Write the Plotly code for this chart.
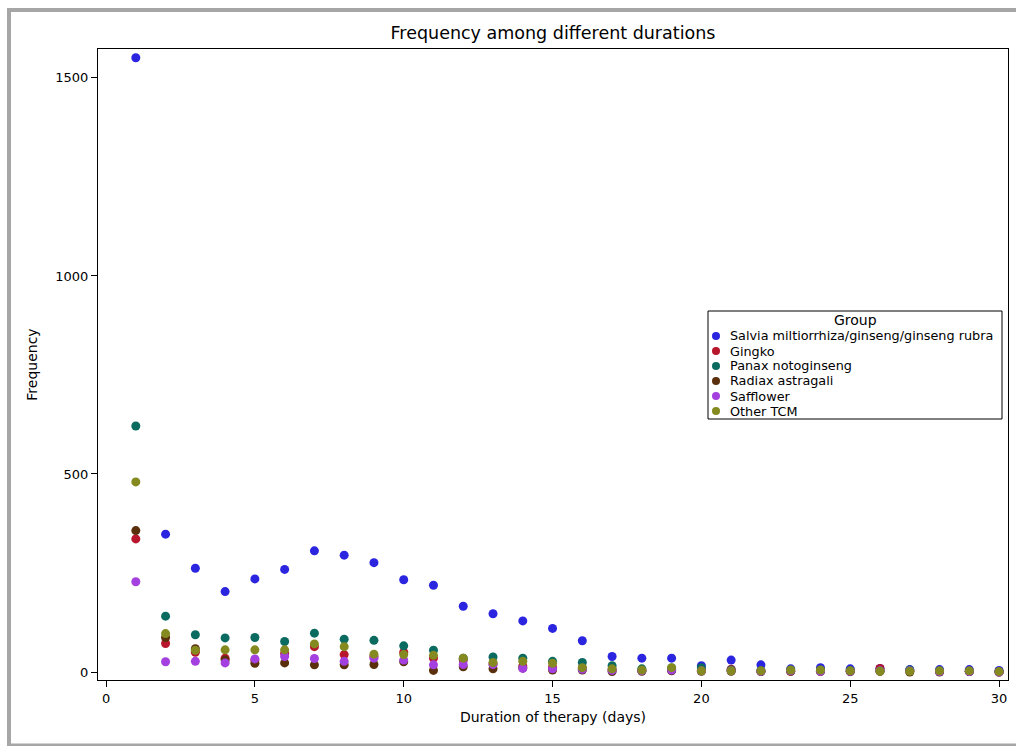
import plotly.graph_objects as go

# Duration of therapy (days)
days = list(range(1, 31))

# Frequency per group for each duration
salvia = [1551, 348, 262, 203, 235, 259, 306, 295, 276, 233, 219, 166, 147, 129, 110,
          79, 39, 35, 35, 16, 30, 18, 8, 11, 8, 9, 6, 6, 6, 4]
gingko = [336, 72, 50, 35, 30, 47, 64, 44, 40, 50, 35, 30, 20, 15, 12,
          10, 6, 4, 5, 4, 7, 2, 2, 3, 2, 9, 2, 1, 1, 0]
panax = [621, 141, 94, 86, 87, 77, 98, 83, 80, 66, 55, 35, 38, 35, 27,
         24, 16, 8, 10, 11, 5, 4, 5, 5, 4, 3, 5, 3, 2, 1]
radiax = [357, 87, 59, 30, 22, 23, 18, 18, 19, 26, 4, 13, 8, 10, 5,
          5, 1, 2, 3, 2, 2, 1, 2, 1, 1, 2, 0, 0, 1, 0]
safflower = [228, 26, 27, 23, 33, 39, 34, 27, 35, 30, 18, 19, 19, 9, 8,
             7, 4, 3, 5, 3, 3, 2, 3, 2, 2, 3, 3, 1, 1, 0]
other_tcm = [480, 97, 55, 56, 56, 56, 71, 64, 45, 44, 42, 35, 24, 27, 22,
             11, 8, 5, 11, 3, 3, 3, 5, 5, 3, 2, 2, 3, 3, 1]

group_names = ["Salvia miltiorrhiza/ginseng/ginseng rubra", "Gingko", "Panax notoginseng",
               "Radiax astragali", "Safflower", "Other TCM"]
group_values = [salvia, gingko, panax, radiax, safflower, other_tcm]
group_colors = ["#2b25e0", "#b8162c", "#0b6b60", "#5a300c", "#a540e0", "#848a1f"]

FONT = "DejaVu Sans"

# Plot-area geometry in pixels (used to place frame and legend in paper units)
W, H = 1016, 746
L, R, T, B = 98, 8, 49, 66
PW, PH = W - L - R, H - T - B


def px(xp):
    return (xp - L) / PW


def py(yp):
    return (H - B - yp) / PH


fig = go.Figure()
for name, vals, col in zip(group_names, group_values, group_colors):
    fig.add_trace(go.Scatter(
        x=days, y=vals, mode="markers", name=name,
        marker=dict(size=9, color=col, line=dict(width=0)),
        showlegend=False,
    ))

shapes = []
annotations = []

# Outer gray frame
gray = "#a6a6a6"
shapes.append(dict(type="line", xref="paper", yref="paper", x0=px(7), x1=px(1016), y0=py(10), y1=py(10),
                   line=dict(color=gray, width=4)))
shapes.append(dict(type="line", xref="paper", yref="paper", x0=px(9), x1=px(9), y0=py(10), y1=py(745),
                   line=dict(color=gray, width=4)))
shapes.append(dict(type="line", xref="paper", yref="paper", x0=px(7), x1=px(1016), y0=py(745), y1=py(745),
                   line=dict(color=gray, width=3)))

# Legend box
lx0, lx1, ly0, ly1 = 708, 1002, 311, 419
shapes.append(dict(type="rect", xref="paper", yref="paper", x0=px(lx0), x1=px(lx1), y0=py(ly0), y1=py(ly1),
                   line=dict(color="black", width=1), fillcolor="white", layer="above"))
annotations.append(dict(xref="paper", yref="paper", x=px((lx0 + lx1) / 2), y=py(320), text="Group",
                        showarrow=False, xanchor="center", yanchor="middle",
                        font=dict(family=FONT, size=14, color="black")))
for i, (name, col) in enumerate(zip(group_names, group_colors)):
    yrow = 336 + 15 * i
    shapes.append(dict(type="circle", xref="paper", yref="paper", xsizemode="pixel", ysizemode="pixel",
                       xanchor=px(716), yanchor=py(yrow), x0=-4, x1=4, y0=-4, y1=4,
                       fillcolor=col, line=dict(width=0), layer="above"))
    annotations.append(dict(xref="paper", yref="paper", x=px(728), y=py(yrow), text=name,
                            showarrow=False, xanchor="left", yanchor="middle",
                            font=dict(family=FONT, size=12.8, color="black")))

fig.update_layout(
    width=W, height=H,
    margin=dict(l=L, r=R, t=T, b=B, pad=0),
    paper_bgcolor="white", plot_bgcolor="white",
    title=dict(text="Frequency among different durations", x=(553) / W, xanchor="center",
               y=1 - 33 / H, yanchor="middle", font=dict(family=FONT, size=17.5, color="black")),
    font=dict(family=FONT, size=13, color="black"),
    shapes=shapes, annotations=annotations,
    showlegend=False,
)
fig.update_xaxes(
    range=[-0.27, 30.3], tickvals=[0, 5, 10, 15, 20, 25, 30],
    showgrid=False, zeroline=False, showline=True, linecolor="black", linewidth=1, mirror=True,
    ticks="outside", ticklen=6, tickcolor="black",
    title=dict(text="Duration of therapy (days)", font=dict(family=FONT, size=14), standoff=7),
    tickfont=dict(family=FONT, size=13),
)
fig.update_yaxes(
    range=[-20.2, 1573], tickvals=[0, 500, 1000, 1500],
    showgrid=False, zeroline=False, showline=True, linecolor="black", linewidth=1, mirror=True,
    ticks="outside", ticklen=6, tickcolor="black",
    title=dict(text="Frequency", font=dict(family=FONT, size=14), standoff=14),
    tickfont=dict(family=FONT, size=13),
)

fig.write_html("out.html")
